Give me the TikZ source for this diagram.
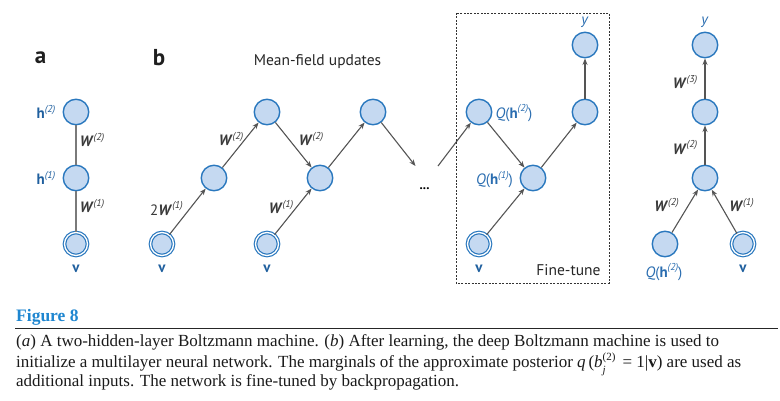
\documentclass[tikz,border=0pt]{standalone}
\usepackage{fontspec}
\setmainfont{Liberation Serif}
\newfontfamily\diag{PT Sans}
\usetikzlibrary{arrows.meta}
\definecolor{nfill}{HTML}{C5D9F1}
\definecolor{ndraw}{HTML}{2A78BE}
\definecolor{lblue}{HTML}{1F5F9E}
\definecolor{qblue}{HTML}{2A6DB0}
\definecolor{arrgray}{HTML}{555555}
\definecolor{linegray}{HTML}{7A7A7A}
\definecolor{wgray}{HTML}{3A3A3A}
\definecolor{figblue}{HTML}{1E86D0}
\definecolor{captext}{HTML}{1A1A1A}
\newcommand\supsc[1]{\raisebox{0.42em}{\fontsize{10}{10}\selectfont\textit{(#1)}}}
\newcommand\Wlab[1]{\textbf{\textit{W}}\supsc{#1}}
\newcommand\hlab[1]{\textbf{h}\supsc{#1}}
\newcommand\Qlab[1]{\textit{Q}(\textbf{h}\supsc{#1})}
\begin{document}
\begin{tikzpicture}[x=1pt,y=-1pt,
  unit/.style={circle, draw=ndraw, fill=nfill, line width=1.4pt, minimum size=25.5pt, inner sep=0pt},
  vis/.style={circle, draw=ndraw, fill=nfill, line width=1.2pt, double=white, double distance=1.3pt, minimum size=23pt, inner sep=0pt},
  arr/.style={draw=arrgray, line width=1.1pt, -{Stealth[length=6.5pt,width=5pt]}},
  plain/.style={draw=linegray, line width=1.8pt},
  wl/.style={text=wgray, font=\diag\fontsize{15}{18}\selectfont, inner sep=0pt},
  bl/.style={text=lblue, font=\diag\fontsize{15}{18}\selectfont, inner sep=0pt},
  ql/.style={text=qblue, font=\diag\fontsize{15}{18}\selectfont, inner sep=0pt},
  panel/.style={text=black!88, font=\diag\bfseries\fontsize{23}{26}\selectfont, inner sep=0pt},
  note/.style={text=black!85, font=\diag\fontsize{15.5}{18}\selectfont, inner sep=0pt},
  capline/.style={anchor=base west, inner sep=0pt, text=captext, font=\fontsize{17}{20}\selectfont},
  boxline/.style={draw=black!80, line width=0.9pt, dash pattern=on 2pt off 1.4pt}
]
\useasboundingbox (0,0) rectangle (780,400);

% ---------- panel labels
\node[panel] (pa) at (40.5,58) {a};
\node[panel] (pb) at (159,58) {b};
\node[note] (mf) at (317.5,62) {Mean-field updates};

% ---------- panel a
\node[unit] (ah2) at (76,112) {};
\node[unit] (ah1) at (76,178) {};
\node[vis]  (av)  at (76,244) {};
\draw[plain] (ah2) -- (ah1);
\draw[plain] (ah1) -- (av);
\node[bl] (lah2) at (46,112) {\hlab{2}};
\node[bl] (lah1) at (46,178) {\hlab{1}};
\node[wl] (law2) at (92,140) {\Wlab{2}};
\node[wl] (law1) at (92,206) {\Wlab{1}};
\node[bl] (lav) at (76,269) {\textbf{v}};

% ---------- panel b: mean-field
\node[vis]  (bv1) at (162,244) {};
\node[unit] (bn1) at (214,178) {};
\node[unit] (bn2) at (267,112) {};
\node[vis]  (bv2) at (267,244) {};
\node[unit] (bn3) at (320,178) {};
\node[unit] (bn4) at (373,112) {};
\coordinate (gapa) at (415.5,166);
\coordinate (gapb) at (438,166);
\draw[arr] (bv1) -- (bn1);
\draw[arr] (bn1) -- (bn2);
\draw[arr] (bn2) -- (bn3);
\draw[arr] (bv2) -- (bn3);
\draw[arr] (bn3) -- (bn4);
\draw[arr] (bn4) -- (gapa);
\node[wl] (l2w1) at (166.5,208.5) {2\Wlab{1}};
\node[wl] (lbw2a) at (231,139) {\Wlab{2}};
\node[wl] (lbw2b) at (311,139) {\Wlab{2}};
\node[wl] (lbw1) at (281,207) {\Wlab{1}};
\node[bl] (lbv1) at (162,269) {\textbf{v}};
\node[bl] (lbv2) at (267,269) {\textbf{v}};
\node[text=black, font=\diag\bfseries\fontsize{13}{14}\selectfont, inner sep=0pt] (dots) at (424.5,189) {...};

% ---------- fine-tune box
\node[unit] (fq2) at (479,112) {};
\node[unit] (fq1) at (533,178) {};
\node[vis]  (fv)  at (479,244) {};
\node[unit] (ft)  at (585,112) {};
\node[unit] (fy)  at (585,45) {};
\draw[arr] (gapb) -- (fq2);
\draw[arr] (fq2) -- (fq1);
\draw[arr] (fv) -- (fq1);
\draw[arr] (fq1) -- (ft);
\draw[arr] (ft) -- (fy);
\coordinate (boxtl) at (456,13);
\coordinate (boxbr) at (609,283);
\draw[boxline] (boxtl) rectangle (boxbr);
\node[ql] (lfq2) at (514,113) {\Qlab{2}};
\node[ql] (lfq1) at (494.5,179.5) {\Qlab{1}};
\node[bl] (lfv) at (479,269) {\textbf{v}};
\node[ql] (lfy) at (585,22) {\textit{y}};
\node[note] (ftn) at (568.5,270) {Fine-tune};

% ---------- unrolled network
\node[unit] (ry)  at (705,45) {};
\node[unit] (r2)  at (705,112) {};
\node[unit] (r1)  at (705,178) {};
\node[unit] (rq)  at (665,244) {};
\node[vis]  (rv)  at (743,244) {};
\draw[arr] (rq) -- (r1);
\draw[arr] (rv) -- (r1);
\draw[arr] (r1) -- (r2);
\draw[arr] (r2) -- (ry);
\node[ql] (lry) at (705,22) {\textit{y}};
\node[wl] (lrw3) at (685,82) {\Wlab{3}};
\node[wl] (lrw2) at (685,147.5) {\Wlab{2}};
\node[wl] (lrw2b) at (666.5,205) {\Wlab{2}};
\node[wl] (lrw1) at (741.5,205) {\Wlab{1}};
\node[ql] (lrq) at (664,272) {\Qlab{2}};
\node[bl] (lrv) at (743,269) {\textbf{v}};

% ---------- caption
\node[anchor=base west, inner sep=0pt, text=figblue, font=\bfseries\fontsize{17.5}{20}\selectfont] (figt) at (16,321) {Figure 8};
\coordinate (rulel) at (15,328);
\coordinate (ruler) at (778,328);
\draw[line width=0.9pt, black!85] (rulel) -- (ruler);
\node[capline] (c1) at (16,346.7) {(\textit{a}) A two-hidden-layer Boltzmann machine. (\textit{b}) After learning, the deep Boltzmann machine is used to};
\node[capline] (c2) at (16,367.7) {initialize a multilayer neural network. The marginals of the approximate posterior \textit{q}\,(\textit{b}\makebox[0pt][l]{\raisebox{-0.32em}{\fontsize{11}{10}\selectfont\textit{j}}}\raisebox{0.45em}{\fontsize{11}{10}\selectfont(2)}\, = 1|\textbf{v}) are used as};
\node[capline] (c3) at (16,386.7) {additional inputs. The network is fine-tuned by backpropagation.};
\end{tikzpicture}
\end{document}
